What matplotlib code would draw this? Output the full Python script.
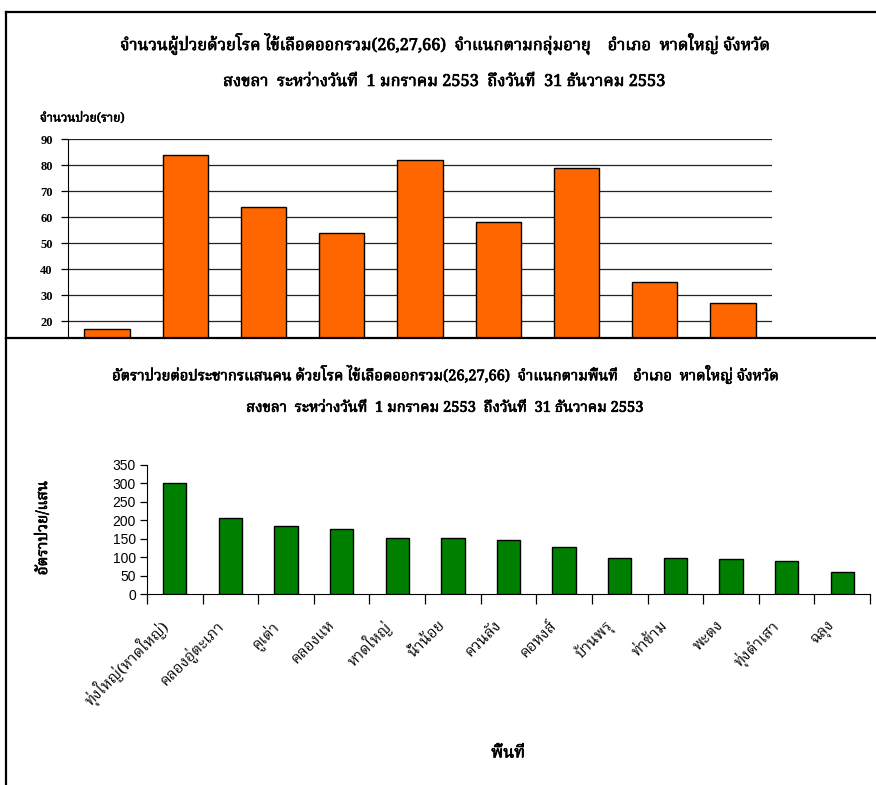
import sys
import matplotlib
matplotlib.use('Agg')
import matplotlib.pyplot as plt
import matplotlib.patheffects as pe
import matplotlib.transforms as mtransforms
from matplotlib import font_manager
from matplotlib.ft2font import FT2Font
from matplotlib.lines import Line2D

# ---------------- data ----------------
age_groups = ['0-4', '5-9', '10-14', '15-24', '25-34', '35-44', '45-54', '55-64', '65+']
age_cases = [17, 84, 64, 54, 82, 58, 79, 35, 27]

areas = ['ทุ่งใหญ่(หาดใหญ่)', 'คลองอู่ตะเภา', 'คูเต่า', 'คลองแห', 'หาดใหญ่', 'น้ำน้อย',
         'ควนลัง', 'คอหงส์', 'บ้านพรุ', 'ท่าข้าม', 'พะตง', 'ทุ่งตำเสา', 'ฉลุง']
area_rates = [302, 206, 184, 177, 152, 152, 146, 127, 99, 98, 95, 89, 60]

top_title = ('จำนวนผู้ป่วยด้วยโรค ไข้เลือดออกรวม(26,27,66)  จำแนกตามกลุ่มอายุ    อำเภอ  หาดใหญ่ จังหวัด\n'
             'สงขลา  ระหว่างวันที่  1 มกราคม 2553  ถึงวันที่  31 ธันวาคม 2553')
bot_title = ('อัตราป่วยต่อประชากรแสนคน ด้วยโรค ไข้เลือดออกรวม(26,27,66)  จำแนกตามพื้นที่    อำเภอ  หาดใหญ่ จังหวัด\n'
             'สงขลา  ระหว่างวันที่  1 มกราคม 2553  ถึงวันที่  31 ธันวาคม 2553')
top_ylabel = 'จำนวนป่วย(ราย)'
bot_ylabel = 'อัตราป่วย/แสน'
bot_xlabel = 'พื้นที่'

# ---------------- fonts ----------------
def find_thai_fonts():
    found = {}
    for f in font_manager.fontManager.ttflist:
        try:
            cm = FT2Font(f.fname).get_charmap()
            if 0x0E01 in cm and 0x0E48 in cm:
                found.setdefault(f.name, []).append(f.fname)
        except Exception:
            pass
    return found

thai = find_thai_fonts()
print('THAI FONTS:', thai, file=sys.stderr)
pref = ['Angsana New', 'AngsanaUPC', 'TH Sarabun New', 'Norasi', 'Noto Serif Thai', 'Laksaman',
        'Garuda', 'Loma', 'Noto Sans Thai', 'Tlwg Typo', 'Kinnari', 'Waree']
thai_font = None
for p in pref:
    if p in thai:
        thai_font = p
        break
if thai_font is None and thai:
    thai_font = sorted(thai.keys())[0]

serif_fam = ([thai_font] if thai_font else []) + ['Liberation Serif', 'DejaVu Serif', 'DejaVu Sans']
serif_num = ['Liberation Serif', 'DejaVu Serif']
sans_num = ['Liberation Sans', 'DejaVu Sans']
plt.rcParams['font.family'] = serif_fam

bold_fx = [pe.withStroke(linewidth=0.5, foreground='black')]

W, H = 876, 785
fig = plt.figure(figsize=(W / 100, H / 100), dpi=100)
fig.patch.set_facecolor('white')

def fx(x):
    return x / W

def fy(y):
    return 1 - y / H

# ---------------- panel frames ----------------
for (x0, y0, x1, y1) in [(6, 12, W, 12), (6, 12, 6, 338), (6, 338, W, 338), (6, 338, 6, H)]:
    fig.add_artist(Line2D([fx(x0), fx(x1)], [fy(y0), fy(y1)], color='black', lw=1.6, zorder=5))

# ---------------- top chart ----------------
ax1 = fig.add_axes([fx(68), fy(338), fx(772) - fx(68), fy(139) - fy(338)])
x1 = range(len(age_groups))
ax1.bar(x1, age_cases, width=0.58, color='#FF6600', edgecolor='black', linewidth=1.0, zorder=3)
ax1.set_xlim(-0.5, len(age_groups) - 0.5)
ax1.set_ylim(13.5, 90)
ax1.set_yticks(range(20, 91, 10))
ax1.set_xticks([])
ax1.yaxis.grid(True, color='#222222', linewidth=0.9)
ax1.set_axisbelow(True)
for s in ['top', 'right', 'bottom']:
    ax1.spines[s].set_visible(False)
ax1.spines['left'].set_color('black')
ax1.tick_params(axis='y', length=5, width=0.9, direction='out', pad=6)
for lab in ax1.get_yticklabels():
    lab.set_fontfamily(serif_num)
    lab.set_fontsize(9)
    lab.set_fontweight('bold')
fig.text(fx(40), fy(118), top_ylabel, fontsize=8.8, fontweight='bold', ha='left', va='center',
         path_effects=[pe.withStroke(linewidth=0.4, foreground='black')])
fig.text(fx(444), fy(62), top_title, fontsize=11.8, fontweight='bold', ha='center', va='center',
         linespacing=2.35, path_effects=bold_fx)

# ---------------- bottom chart ----------------
ax2 = fig.add_axes([fx(147), fy(594), fx(870) - fx(147), fy(465) - fy(594)])
x2 = range(len(areas))
ax2.bar(x2, area_rates, width=0.42, color='#008000', edgecolor='black', linewidth=1.0, zorder=3)
ax2.set_xlim(-0.5, len(areas) - 0.5)
ax2.set_ylim(0, 350)
ax2.set_yticks(range(0, 351, 50))
for s in ['top', 'right']:
    ax2.spines[s].set_visible(False)
ax2.set_xticks(list(x2))
ax2.set_xticklabels(areas, rotation=45, ha='right', va='center', rotation_mode='anchor', fontsize=11)
ax2.set_xticks([i - 0.5 for i in range(len(areas) + 1)], minor=True)
ax2.tick_params(axis='x', which='major', length=0, pad=19)
ax2.tick_params(axis='x', which='minor', length=7, width=0.9, direction='out')
ax2.tick_params(axis='y', length=5, width=0.9, direction='out', pad=3)
shift = mtransforms.ScaledTranslation(-0.09, -0.03, fig.dpi_scale_trans)
for lab in ax2.get_xticklabels():
    lab.set_transform(lab.get_transform() + shift)
for lab in ax2.get_yticklabels():
    lab.set_fontfamily(sans_num)
    lab.set_fontsize(10)
fig.text(fx(43), fy(528), bot_ylabel, fontsize=11, fontweight='bold', rotation=90,
         ha='center', va='center', path_effects=bold_fx)
fig.text(fx(508), fy(753), bot_xlabel, fontsize=12, fontweight='bold', ha='center', va='center',
         path_effects=bold_fx)
fig.text(fx(445), fy(391), bot_title, fontsize=10.6, fontweight='bold', ha='center', va='center',
         linespacing=2.5, path_effects=bold_fx)

fig.savefig('out.png', dpi=100, facecolor='white')
